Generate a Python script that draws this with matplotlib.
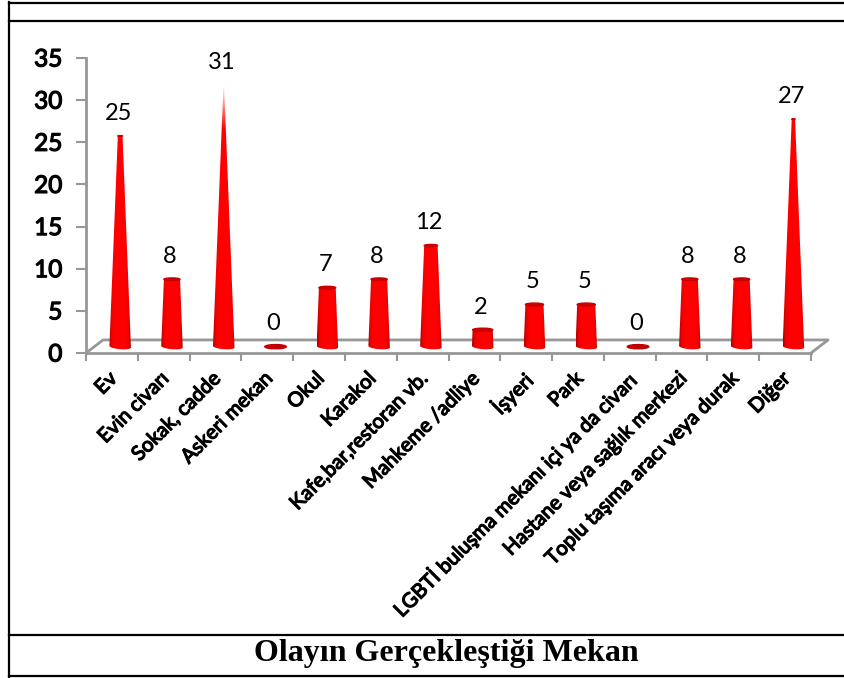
import numpy as np
import matplotlib
matplotlib.use("Agg")
import matplotlib.pyplot as plt
import matplotlib.patheffects as pe
from matplotlib.colors import LinearSegmentedColormap
from matplotlib.patches import Ellipse, Polygon

categories = ["Ev", "Evin civarı", "Sokak, cadde", "Askeri mekan", "Okul", "Karakol",
              "Kafe,bar,restoran vb.", "Mahkeme /adliye", "İşyeri", "Park",
              "LGBTİ buluşma mekanı içi ya da civarı", "Hastane veya sağlık merkezi",
              "Toplu taşıma aracı veya durak", "Diğer"]
values = [25, 8, 31, 0, 7, 8, 12, 2, 5, 5, 0, 8, 8, 27]
y_ticks = [0, 5, 10, 15, 20, 25, 30, 35]
title = "Olayın Gerçekleştiği Mekan"

W, H = 845, 678
GRAY = "#979797"
DEPTH_X = 0.33
DEPTH_Y = 1.55
BAR_X = 0.16
BAR_Y = 0.75
BASE_W = 0.415
TIP_VALUE = 32.0

cone_cmap = LinearSegmentedColormap.from_list(
    "cone", [(0, "#b00000"), (0.12, "#f00000"), (0.3, "#ff0000"), (0.75, "#ff0000"),
             (0.9, "#ee0000"), (1, "#b00000")])


def draw_cone(ax, x, v):
    if v == 0:
        ax.add_patch(Ellipse((x, BAR_Y), BASE_W, 0.5, angle=0.3, color="#c00000", clip_on=False, zorder=4))
        return
    half = BASE_W / 2
    top = half * (1 - v / TIP_VALUE)
    t = np.linspace(np.pi, 2 * np.pi, 30)
    # base of the cone, a little lifted on the right like the 3d view
    bottom = np.column_stack([x + half * np.cos(t),
                              BAR_Y + 0.3 * np.sin(t) + 0.1 * np.cos(t) * -1])
    outline = np.vstack([bottom, [x + top, BAR_Y + v], [x - top, BAR_Y + v]])
    patch = Polygon(outline, closed=True, facecolor="none", edgecolor="none")
    ax.add_patch(patch)
    grad = np.tile(np.linspace(0, 1, 64), (300, 1))
    alpha = np.ones_like(grad)
    if top < 0.03:
        # sharpest cone fades out at the tip
        alpha = np.tile(np.clip(np.linspace(0, 1, 300) * 6, 0, 1).reshape(-1, 1), (1, 64))
    im = ax.imshow(grad, cmap=cone_cmap, aspect="auto", zorder=4, alpha=alpha,
                   extent=(x - half, x + half, BAR_Y - 0.6, BAR_Y + v + 0.1), origin="upper")
    im.set_clip_path(patch)
    if top >= 0.03:
        height = min(0.5, 2 * top * 1.0)
        ax.add_patch(Ellipse((x, BAR_Y + v), 2 * top, height, color="#c80000", clip_on=False, zorder=5))


def main():
    fig = plt.figure(figsize=(W / 100, H / 100), dpi=100)
    ax = fig.add_axes([86 / W, 1 - 353 / H, 725 / W, 295 / H])

    x_pos = np.arange(len(categories)) + 0.5 + BAR_X
    bold = [pe.withStroke(linewidth=0.9, foreground="black")]

    # floor of the 3d box
    ax.plot([0, DEPTH_X, 14 + DEPTH_X, 14], [0, DEPTH_Y, DEPTH_Y, 0],
            color=GRAY, lw=2, clip_on=False, zorder=2)

    for x, v in zip(x_pos, values):
        draw_cone(ax, x, v)
        ax.text(x - 0.04, v + BAR_Y + 2.7, str(v), ha="center", va="center", fontsize=17,
                family="Lato", color="black", zorder=6)

    ax.set_xlim(0, 14)
    ax.set_ylim(0, 35)
    for side in ["top", "right"]:
        ax.spines[side].set_visible(False)
    for side in ["left", "bottom"]:
        ax.spines[side].set_color(GRAY)
        ax.spines[side].set_linewidth(2)

    ax.set_yticks(y_ticks)
    ax.set_yticklabels([str(t) for t in y_ticks], fontsize=17.5, family="Lato", path_effects=bold)
    ax.tick_params(axis="y", length=7, width=1.5, color=GRAY, pad=10)
    ax.set_xticks(range(15))
    ax.set_xticklabels([])
    ax.tick_params(axis="x", which="major", length=6, width=1.5, color=GRAY)
    ax.set_xticks(np.arange(14) + 0.43, minor=True)
    ax.set_xticklabels(categories, minor=True, rotation=45, ha="right", rotation_mode="anchor",
                       fontsize=14.6, family="Lato", path_effects=bold)
    ax.tick_params(axis="x", which="minor", length=0, pad=12)

    # table frame around the chart
    frame = dict(color="black", transform=fig.transFigure, clip_on=False, zorder=10)
    fig.add_artist(plt.Line2D([9 / W, 9 / W], [1 - 2 / H, 1 - 677 / H], lw=1.6, **frame))
    fig.add_artist(plt.Line2D([9 / W, 1], [1 - 2.5 / H, 1 - 2.5 / H], lw=1.6, **frame))
    fig.add_artist(plt.Line2D([9 / W, 1], [1 - 20.5 / H, 1 - 20.5 / H], lw=1.6, **frame))
    fig.add_artist(plt.Line2D([9 / W, 1], [1 - 635 / H, 1 - 635 / H], lw=1.6, **frame))
    fig.add_artist(plt.Line2D([9 / W, 1], [1 - 676 / H, 1 - 676 / H], lw=1.6, **frame))

    fig.text(446 / W, 1 - 653 / H, title, ha="center", va="center", fontsize=23,
             family="Liberation Serif", fontweight="bold")

    fig.savefig("out.png", dpi=100)


if __name__ == "__main__":
    main()
